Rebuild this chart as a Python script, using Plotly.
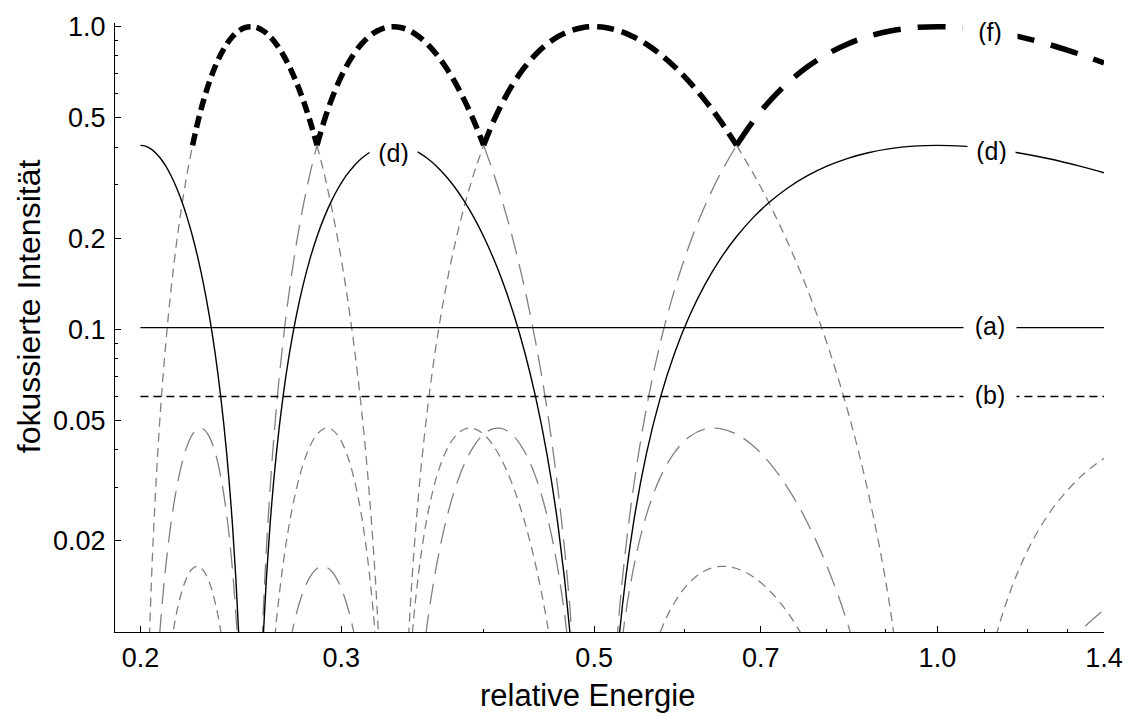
import math
import plotly.graph_objects as go

# ---------------- data ----------------
energy = [0.2, 0.20202, 0.20408, 0.20619, 0.20833, 0.21053, 0.21277, 0.21505, 0.21739, 0.21978,
          0.22222, 0.22472, 0.22727, 0.22989, 0.23256, 0.23529, 0.2381, 0.24096, 0.2439, 0.24691,
          0.25, 0.25316, 0.25641, 0.25974, 0.26316, 0.26667, 0.27027, 0.27397, 0.27778, 0.28169,
          0.28571, 0.28986, 0.29412, 0.29851, 0.30303, 0.30769, 0.3125, 0.31746, 0.32258, 0.32787,
          0.33333, 0.33898, 0.34483, 0.35088, 0.35714, 0.36364, 0.37037, 0.37736, 0.38462, 0.39216,
          0.4, 0.40816, 0.41667, 0.42553, 0.43478, 0.44444, 0.45455, 0.46512, 0.47619, 0.4878,
          0.5, 0.51282, 0.52632, 0.54054, 0.55556, 0.57143, 0.58824, 0.60606, 0.625, 0.64516,
          0.66667, 0.68966, 0.71429, 0.74074, 0.76923, 0.8, 0.83333, 0.86957, 0.90909, 0.95238,
          1.0, 1.05263, 1.11111, 1.17647, 1.25, 1.33333, 1.4]

# curve (d)
intensity_d = [0.40528, 0.40278, 0.39536, 0.38319, 0.36658, 0.34593, 0.32175, 0.29464, 0.26526, 0.23434,
               0.20264, 0.17094, 0.14002, 0.11064, 0.08353, 0.05935, 0.0387, 0.02209, 0.009917, 0.002495,
               None, 0.002495, 0.009917, 0.02209, 0.0387, 0.05935, 0.08353, 0.11064, 0.14002, 0.17094,
               0.20264, 0.23434, 0.26526, 0.29464, 0.32175, 0.34593, 0.36658, 0.38319, 0.39536, 0.40278,
               0.40528, 0.40278, 0.39536, 0.38319, 0.36658, 0.34593, 0.32175, 0.29464, 0.26526, 0.23434,
               0.20264, 0.17094, 0.14002, 0.11064, 0.08353, 0.05935, 0.0387, 0.02209, 0.009917, 0.002495,
               None, 0.002495, 0.009917, 0.02209, 0.0387, 0.05935, 0.08353, 0.11064, 0.14002, 0.17094,
               0.20264, 0.23434, 0.26526, 0.29464, 0.32175, 0.34593, 0.36658, 0.38319, 0.39536, 0.40278,
               0.40528, 0.40278, 0.39536, 0.38319, 0.36658, 0.34593, 0.32899]

# grey long-dashed order 1
order_1 = [None, None, None, None, None, None, None, None, None, None,
           None, None, None, None, None, None, None, None, None, None,
           None, None, None, None, None, None, 0.0091, 0.01146, 0.01356, 0.0152,
           0.01621, 0.01647, 0.01591, 0.01457, 0.01254, 0.01001, 0.00723, None, None, None,
           None, None, None, 0.0061, 0.0108, 0.01654, 0.02295, 0.02955, 0.0358, 0.04114,
           0.04503, 0.04701, 0.04676, 0.04414, 0.03924, 0.03242, 0.02431, 0.01579, 0.008, 0.00225,
           None, 0.00275, 0.01194, 0.0289, 0.0547, 0.09007, 0.13534, 0.19038, 0.25457, 0.32675,
           0.40528, None, None, None, None, None, None, None, None, None,
           None, None, None, None, None, None, None]

# grey short-dashed order 2
order_2 = [None, None, None, None, None, None, 0.0091, 0.01146, 0.01356, 0.0152,
           0.01621, 0.01647, 0.01591, 0.01457, 0.01254, 0.01001, 0.00723, None, None, None,
           None, None, None, 0.0061, 0.0108, 0.01654, 0.02295, 0.02955, 0.0358, 0.04114,
           0.04503, 0.04701, 0.04676, 0.04414, 0.03924, 0.03242, 0.02431, 0.01579, 0.008, 0.00225,
           None, 0.00275, 0.01194, 0.0289, 0.0547, 0.09007, 0.13534, 0.19038, 0.25457, 0.32675,
           0.40528, None, None, None, None, None, None, None, None, None,
           None, None, None, None, None, None, None, None, None, None,
           0.40528, 0.32675, 0.25457, 0.19038, 0.13534, 0.09007, 0.0547, 0.0289, 0.01194, 0.00275,
           None, 0.00225, 0.008, 0.01579, 0.02431, 0.03242, 0.03746]

# grey long-dashed order 3
order_3 = [None, None, None, 0.0061, 0.0108, 0.01654, 0.02295, 0.02955, 0.0358, 0.04114,
           0.04503, 0.04701, 0.04676, 0.04414, 0.03924, 0.03242, 0.02431, 0.01579, 0.008, 0.00225,
           None, 0.00275, 0.01194, 0.0289, 0.0547, 0.09007, 0.13534, 0.19038, 0.25457, 0.32675,
           0.40528, None, None, None, None, None, None, None, None, None,
           None, None, None, None, None, None, None, None, None, None,
           0.40528, 0.32675, 0.25457, 0.19038, 0.13534, 0.09007, 0.0547, 0.0289, 0.01194, 0.00275,
           None, 0.00225, 0.008, 0.01579, 0.02431, 0.03242, 0.03924, 0.04414, 0.04676, 0.04701,
           0.04503, 0.04114, 0.0358, 0.02955, 0.02295, 0.01654, 0.0108, 0.0061, None, None,
           None, None, None, None, 0.00723, 0.01001, 0.01185]

# grey short-dashed order 4
order_4 = [None, 0.00275, 0.01194, 0.0289, 0.0547, 0.09007, 0.13534, 0.19038, 0.25457, 0.32675,
           0.40528, None, None, None, None, None, None, None, None, None,
           None, None, None, None, None, None, None, None, None, None,
           0.40528, 0.32675, 0.25457, 0.19038, 0.13534, 0.09007, 0.0547, 0.0289, 0.01194, 0.00275,
           None, 0.00225, 0.008, 0.01579, 0.02431, 0.03242, 0.03924, 0.04414, 0.04676, 0.04701,
           0.04503, 0.04114, 0.0358, 0.02955, 0.02295, 0.01654, 0.0108, 0.0061, None, None,
           None, None, None, None, 0.00723, 0.01001, 0.01254, 0.01457, 0.01591, 0.01647,
           0.01621, 0.0152, 0.01356, 0.01146, 0.0091, None, None, None, None, None,
           None, None, None, None, None, None, None]

# thick dashed envelope (f)
envelope_f = [None, None, None, None, None, None, None, None, None, None,
              0.40528, 0.48811, 0.57279, 0.65663, 0.73684, 0.81057, 0.87514, 0.92814, 0.96753, 0.99179,
              1.0, 0.99179, 0.96753, 0.92814, 0.87514, 0.81057, 0.73684, 0.65663, 0.57279, 0.48811,
              0.40528, 0.48811, 0.57279, 0.65663, 0.73684, 0.81057, 0.87514, 0.92814, 0.96753, 0.99179,
              1.0, 0.99179, 0.96753, 0.92814, 0.87514, 0.81057, 0.73684, 0.65663, 0.57279, 0.48811,
              0.40528, 0.48811, 0.57279, 0.65663, 0.73684, 0.81057, 0.87514, 0.92814, 0.96753, 0.99179,
              1.0, 0.99179, 0.96753, 0.92814, 0.87514, 0.81057, 0.73684, 0.65663, 0.57279, 0.48811,
              0.40528, 0.48811, 0.57279, 0.65663, 0.73684, 0.81057, 0.87514, 0.92814, 0.96753, 0.99179,
              1.0, 0.99179, 0.96753, 0.92814, 0.87514, 0.81057, 0.7586]
f_arc_bounds = [0.22222, 0.28571, 0.4, 0.66667, 1.4]

level_a = 0.1013
level_b = 0.06
level_span = [0.2, 1.4]

x_ticks = [0.2, 0.3, 0.5, 0.7, 1.0, 1.4]
x_tick_text = ["0.2", "0.3", "0.5", "0.7", "1.0", "1.4"]
x_minor = [0.4, 0.6, 0.8, 0.9, 1.1, 1.2, 1.3]
y_ticks = [0.02, 0.05, 0.1, 0.2, 0.5, 1.0]
y_tick_text = ["0.02", "0.05", "0.1", "0.2", "0.5", "1.0"]
y_minor = [0.03, 0.04, 0.06, 0.07, 0.08, 0.09, 0.3, 0.4, 0.6, 0.7, 0.8, 0.9]

curve_labels = [("(f)", 1.113, 0.96, 54), ("(d)", 0.3335, 0.381, 47), ("(d)", 1.116, 0.389, 47),
                ("(a)", 1.113, 0.1026, 52), ("(b)", 1.113, 0.0608, 52)]

x_title = "relative Energie"
y_title = "fokussierte Intensität"

# ---------------- styling ----------------
FONT = "Liberation Sans, Arial, sans-serif"
GREY = "#808080"
LONG = "21px,10px"
SHORT = "9px,6px"
F_DASHES = ["12px,6px", "14px,7px", "17px,8px", "28px,17px"]

fig = go.Figure()


def line(x, y, color, width, dash, shape="spline"):
    fig.add_trace(go.Scatter(x=x, y=y, mode="lines", connectgaps=False, hoverinfo="skip",
                             showlegend=False,
                             line=dict(color=color, width=width, dash=dash, shape=shape)))


line(energy, order_1, GREY, 1.3, LONG)
line(energy, order_3, GREY, 1.3, LONG)
line(energy, order_2, GREY, 1.3, SHORT)
line(energy, order_4, GREY, 1.3, SHORT)
line(energy, intensity_d, "black", 1.4, "solid")
line(level_span, [level_a, level_a], "black", 1.4, "solid", "linear")
line(level_span, [level_b, level_b], "black", 1.4, "8px,5px", "linear")

for k in range(4):
    lo, hi = f_arc_bounds[k], f_arc_bounds[k + 1]
    xs, ys = [], []
    for e, v in zip(energy, envelope_f):
        if v is not None and lo - 1e-4 <= e <= hi + 1e-4:
            xs.append(e)
            ys.append(v)
    line(xs, ys, "black", 5.5, F_DASHES[k])

annotations = []
for txt, xv, yv, w in curve_labels:
    annotations.append(dict(x=math.log10(xv), y=math.log10(yv), xref="x", yref="y", text=txt,
                            showarrow=False, bgcolor="white", width=w, height=26, borderpad=0,
                            font=dict(family=FONT, size=25, color="black")))
annotations.append(dict(x=0.478, y=-0.1045, xref="paper", yref="paper", text=x_title, showarrow=False,
                        xanchor="center", yanchor="middle", font=dict(family=FONT, size=31, color="black")))
annotations.append(dict(x=-0.087, y=0.535, xref="paper", yref="paper", text=y_title, showarrow=False,
                        textangle=-90, xanchor="center", yanchor="middle",
                        font=dict(family=FONT, size=32, color="black")))

axis_common = dict(type="log", showgrid=False, zeroline=False, showline=True, linecolor="black",
                   linewidth=1.3, ticks="inside", ticklen=6, tickwidth=1.2, tickcolor="black",
                   tickfont=dict(family=FONT, size=27, color="black"))

fig.update_layout(
    width=1135, height=716,
    margin=dict(l=115, r=22, t=12, b=84),
    paper_bgcolor="white", plot_bgcolor="white",
    xaxis=dict(range=[math.log10(0.19), math.log10(1.4)], tickmode="array", tickvals=x_ticks,
               ticktext=x_tick_text, ticklabelstandoff=1,
               minor=dict(tickmode="array", tickvals=x_minor, ticks="inside", ticklen=3,
                          tickwidth=1, tickcolor="black", showgrid=False),
               **axis_common),
    yaxis=dict(range=[-2, 0.012], tickmode="array", tickvals=y_ticks, ticktext=y_tick_text,
               ticklabelstandoff=3,
               minor=dict(tickmode="array", tickvals=y_minor, ticks="inside", ticklen=3,
                          tickwidth=1, tickcolor="black", showgrid=False),
               **axis_common),
    annotations=annotations,
)

fig.write_html("out.html")
